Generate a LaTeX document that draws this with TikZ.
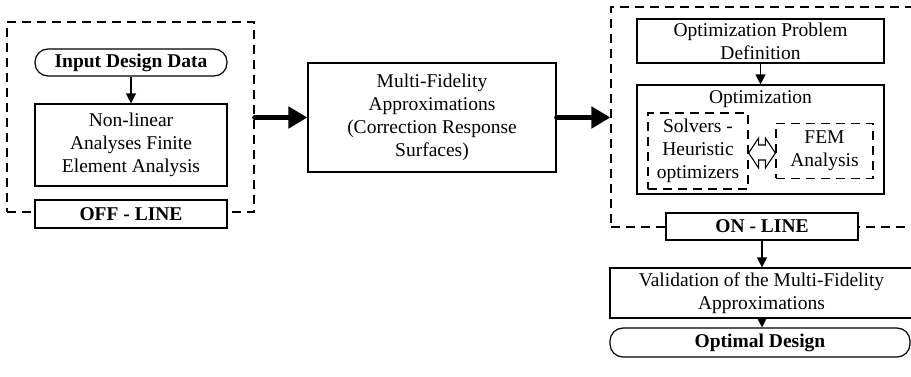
\documentclass[tikz,border=0pt]{standalone}
\usepackage{fontspec}
\setmainfont{Liberation Serif}
\usetikzlibrary{arrows.meta,calc}
\begin{document}
\begin{tikzpicture}[x=1pt,y=-1pt,
  every node/.style={font=\fontsize{19.5}{23}\selectfont, align=center, inner sep=0pt},
  box/.style={draw, line width=1.2pt, fill=white},
  dbox/.style={draw, line width=1.2pt, dash pattern=on 9pt off 6pt},
  rbox/.style={draw, line width=1.2pt, fill=white, rounded corners=13pt},
  thin/.style={line width=1.3pt, -{Triangle[length=10pt,width=10pt]}},
  thick/.style={line width=5pt, line cap=round, -{Triangle[length=19pt,width=21pt]}}
]
\useasboundingbox (0,0) rectangle (911,377);
% left group
\node[dbox, minimum width=247pt, minimum height=190pt] (ld) at (130.5,117) {};
\node[rbox, minimum width=192pt, minimum height=27pt] (idd) at (131,62.5) {\bfseries Input Design Data};
\node[box, minimum width=192pt, minimum height=82pt] (nla) at (131,145) {Non-linear\\Analyses Finite\\Element Analysis};
\node[box, minimum width=192pt, minimum height=28pt] (off) at (131,214) {\bfseries OFF - LINE};
\draw[thin] (idd) -- (nla);
% middle
\node[box, minimum width=248pt, minimum height=109pt] (mf) at (432,117.5) {Multi-Fidelity\\Approximations\\(Correction Response\\Surfaces)};
% right group
\node[dbox, minimum width=304pt, minimum height=220pt] (rd) at (763,117) {};
\node[box, minimum width=247pt, minimum height=44pt] (opd) at (760.5,41) {Optimization Problem\\Definition};
\node[box, minimum width=247pt, minimum height=109pt] (opt) at (760.5,139.5) {};
\node[anchor=north] (optl) at ($(opt.north)+(0,6)$) {Optimization};
\node[dbox, minimum width=100pt, minimum height=76pt] (sol) at (698,151) {Solvers -\\Heuristic\\optimizers};
\node[dbox, minimum width=97pt, minimum height=55pt] (fem) at (824.5,151) {FEM\\Analysis};
\draw[line width=1.1pt, line join=miter]
  ($(sol.east)+(0,2)$) -- ($(sol.east)+(10,-13)$) -- ($(sol.east)+(10,-6)$) -- ($(fem.west)+(-10,-6)$)
  -- ($(fem.west)+(-10,-13)$) -- ($(fem.west)+(0,2)$) -- ($(fem.west)+(-10,17)$) -- ($(fem.west)+(-10,9)$)
  -- ($(sol.east)+(10,9)$) -- ($(sol.east)+(10,17)$) -- cycle;
\node[box, minimum width=192pt, minimum height=27pt] (on) at (762,226.5) {\bfseries ON - LINE};
\draw[thin] (opd) -- (opd.south |- opt.north);
\node[box, minimum width=303pt, minimum height=50pt] (val) at (761.5,293) {Validation of the Multi-Fidelity\\Approximations};
\node[rbox, minimum width=300pt, minimum height=29pt] (od) at (760,342.5) {\bfseries Optimal Design};
\draw[thin] (on) -- (on.south |- val.north);
\draw[thin] (on.south |- val.south) -- (on.south |- od.north);
% big arrows
\draw[thick] (ld.east |- mf.west) -- (mf.west);
\draw[thick] (mf.east) -- (rd.west |- mf.east);
\end{tikzpicture}
\end{document}
